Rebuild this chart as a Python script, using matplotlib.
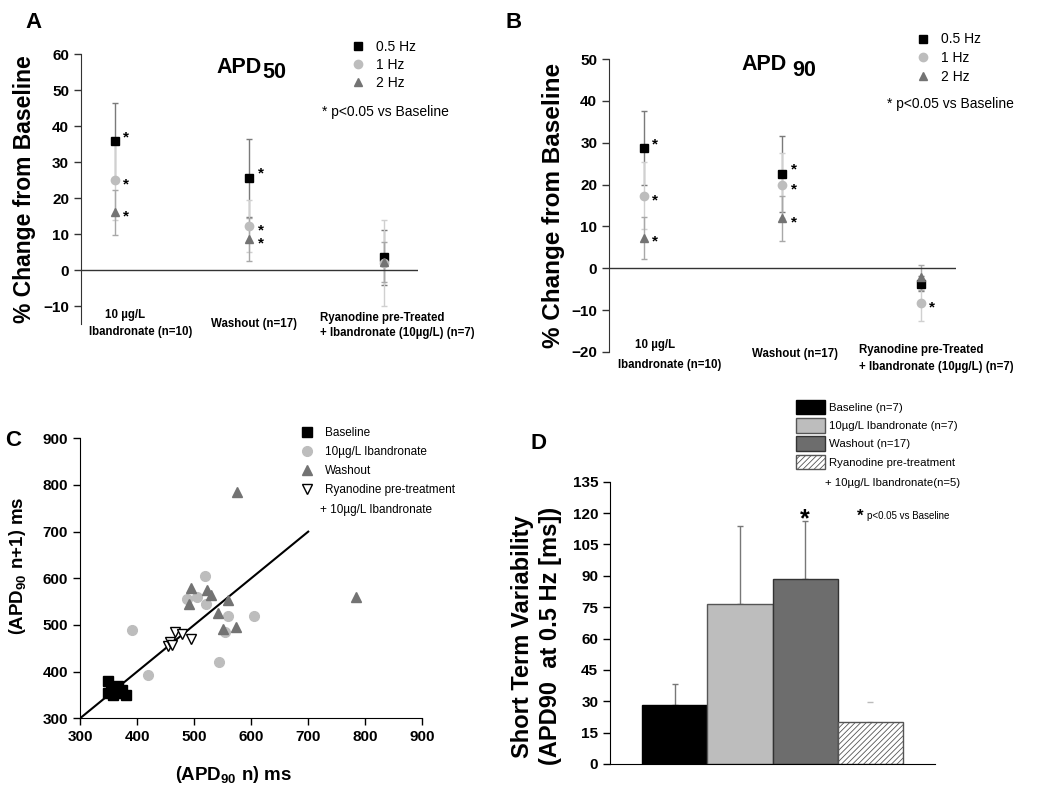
import matplotlib
matplotlib.use('Agg')
import matplotlib.pyplot as plt
from matplotlib.patches import Patch

plt.rcParams['font.family'] = 'Liberation Sans'
plt.rcParams['mathtext.fontset'] = 'custom'
plt.rcParams['mathtext.rm'] = 'Liberation Sans:bold'
plt.rcParams['mathtext.it'] = 'Liberation Sans:bold'
plt.rcParams['mathtext.bf'] = 'Liberation Sans:bold'
plt.rcParams['hatch.linewidth'] = 0.6
plt.rcParams['hatch.color'] = '#555555'

# ---- datos panel A (APD50) y B (APD90): % cambio vs baseline ----
grupos = [1, 2, 3]
freqs = ['0.5 Hz', '1 Hz', '2 Hz']

apd50 = [[35.7, 25.6, 3.5], [25.0, 12.2, 2.0], [16.0, 8.5, 2.3]]
apd50_err = [[10.8, 10.9, 7.7], [11.0, 7.3, 12.0], [6.3, 6.0, 5.5]]
apd50_sig = [[True, True, False], [True, True, False], [True, True, False]]

apd90 = [[28.7, 22.5, -3.7], [17.3, 19.8, -8.3], [7.3, 11.9, -2.2]]
apd90_err = [[8.8, 9.0, 1.8], [8.0, 7.7, 4.3], [5.0, 5.4, 3.0]]
apd90_sig = [[True, True, False], [True, True, True], [True, True, False]]

# ---- datos panel C: APD90 n vs n+1 ----
base_x = [349, 349, 358, 361, 367, 368, 373, 381, 355, 362]
base_y = [380, 354, 351, 368, 369, 354, 361, 350, 362, 358]
ib_x = [392, 420, 488, 505, 519, 520, 544, 555, 560, 605]
ib_y = [489, 393, 555, 559, 605, 545, 420, 484, 519, 520]
wash_x = [494, 491, 522, 529, 542, 560, 551, 574, 576, 784]
wash_y = [579, 545, 575, 564, 525, 554, 492, 496, 786, 561]
ry_x = [454, 457, 462, 466, 478, 494]
ry_y = [454, 464, 457, 484, 480, 471]
identidad = [300, 700]

# ---- datos panel D: short term variability ----
etiquetas_d = ['Baseline (n=7)', '10\u00b5g/L Ibandronate (n=7)', 'Washout (n=17)', 'Ryanodine pre-treatment']
stv = [28.2, 76.5, 88.5, 20.2]
stv_err = [10.1, 37.3, 27.7, 9.3]

marcadores = ['s', 'o', '^']
colores = ['#000000', '#bdbdbd', '#737373']
colores_err = ['#7a7a7a', '#d0d0d0', '#a8a8a8']
desplaz_asterisco = [3, -3, -3]


def panel_cambio(ax, vals, errs, sigs, ylim, yticks):
    for i in range(3):
        ax.errorbar(grupos, vals[i], yerr=errs[i], fmt='none', ecolor=colores_err[i],
                    elinewidth=1, capsize=2.5, capthick=1, zorder=2)
    for i in range(3):
        ax.plot(grupos, vals[i], linestyle='none', marker=marcadores[i], color=colores[i],
                markersize=6, label=freqs[i], zorder=3)
        for g, v, s in zip(grupos, vals[i], sigs[i]):
            if s:
                ax.annotate('*', (g, v), xytext=(6, desplaz_asterisco[i]), textcoords='offset points',
                            va='center', fontsize=11, fontweight='bold')
    ax.axhline(0, color='#333333', lw=1)
    ax.set_xlim(0.75, 3.25)
    ax.set_ylim(*ylim)
    ax.set_yticks(yticks)
    ax.set_xticks([])
    for sp in ['top', 'right', 'bottom']:
        ax.spines[sp].set_visible(False)
    ax.spines['left'].set_color('#333333')
    ax.tick_params(axis='y', labelsize=11, width=1, length=5, color='#333333')
    for t in ax.get_yticklabels():
        t.set_fontweight('bold')


fig = plt.figure(figsize=(10.5, 7.92), dpi=100)

# Panel A
axA = fig.add_axes([0.0771, 0.5909, 0.3210, 0.3409])
panel_cambio(axA, apd50, apd50_err, apd50_sig, (-15, 60), range(-10, 61, 10))
axA.text(2.093, 54.8, 'APD', ha='right', va='baseline', fontsize=15.5, fontweight='bold')
axA.text(2.095, 53.4, '50', ha='left', va='baseline', fontsize=15.5, fontweight='bold')
kw = dict(fontsize=8.3, fontweight='bold', va='center', clip_on=False)
axA.text(1.08, -12.5, '10 \u00b5g/L', ha='center', **kw)
axA.text(1.19, -17.2, 'Ibandronate (n=10)', ha='center', **kw)
axA.text(2.03, -15.0, 'Washout (n=17)', ha='center', **kw)
axA.text(2.524, -13.4, 'Ryanodine pre-Treated', ha='left', **kw)
axA.text(2.524, -17.5, '+ Ibandronate (10\u00b5g/L) (n=7)', ha='left', **kw)
axA.legend(loc='upper left', bbox_to_anchor=(0.334, 0.9495), bbox_transform=fig.transFigure,
           frameon=False, fontsize=10, handlelength=1, handletextpad=0.8,
           labelspacing=0.3, borderpad=0, borderaxespad=0)
fig.text(0.307, 0.8586, '* p<0.05 vs Baseline', fontsize=10, va='center')
fig.text(0.0238, 0.7614, '% Change from Baseline', rotation=90, fontsize=16.5,
         fontweight='bold', ha='center', va='center')

# Panel B
axB = fig.add_axes([0.58, 0.5556, 0.3302, 0.3699])
panel_cambio(axB, apd90, apd90_err, apd90_sig, (-20, 50), range(-20, 51, 10))
axB.text(2.03, 47.3, 'APD', ha='right', va='baseline', fontsize=15.5, fontweight='bold')
axB.text(2.07, 45.9, '90', ha='left', va='baseline', fontsize=15.5, fontweight='bold')
axB.text(1.08, -18.4, '10 \u00b5g/L', ha='center', **kw)
axB.text(1.19, -23.0, 'Ibandronate (n=10)', ha='center', **kw)
axB.text(2.09, -20.5, 'Washout (n=17)', ha='center', **kw)
axB.text(2.55, -19.6, 'Ryanodine pre-Treated', ha='left', **kw)
axB.text(2.55, -23.6, '+ Ibandronate (10\u00b5g/L) (n=7)', ha='left', **kw)
axB.legend(loc='upper left', bbox_to_anchor=(0.8726, 0.959), bbox_transform=fig.transFigure,
           frameon=False, fontsize=10, handlelength=1, handletextpad=0.8,
           labelspacing=0.35, borderpad=0, borderaxespad=0)
fig.text(0.845, 0.8687, '* p<0.05 vs Baseline', fontsize=10, va='center')
fig.text(0.5276, 0.74, '% Change from Baseline', rotation=90, fontsize=17.5,
         fontweight='bold', ha='center', va='center')

# Panel C
axC = fig.add_axes([0.0762, 0.0930, 0.3260, 0.3536])
axC.plot(identidad, identidad, color='black', lw=1.5, zorder=1)
axC.plot(base_x, base_y, 's', color='black', markersize=7, label='Baseline', zorder=3)
axC.plot(ib_x, ib_y, 'o', color='#bdbdbd', markersize=7, label='10\u00b5g/L Ibandronate', zorder=2)
axC.plot(wash_x, wash_y, '^', color='#737373', markersize=7.5, label='Washout', zorder=2)
axC.plot(ry_x, ry_y, 'v', markerfacecolor='white', markeredgecolor='black', markeredgewidth=1,
         markersize=7.5, linestyle='none', label='Ryanodine pre-treatment', zorder=3)
axC.set_xlim(300, 900)
axC.set_ylim(300, 900)
axC.set_xticks(range(300, 901, 100))
axC.set_yticks(range(300, 901, 100))
for sp in ['top', 'right']:
    axC.spines[sp].set_visible(False)
axC.tick_params(labelsize=11, width=1, length=5)
for t in axC.get_xticklabels() + axC.get_yticklabels():
    t.set_fontweight('bold')
axC.legend(loc='upper left', bbox_to_anchor=(0.2867, 0.4609), bbox_transform=fig.transFigure,
           frameon=False, fontsize=8.5, handlelength=1, handletextpad=1.0,
           labelspacing=0.6, borderpad=0, borderaxespad=0)
fig.text(0.3048, 0.356, '+ 10\u00b5g/L Ibandronate', fontsize=8.5, va='center')
fig.text(0.2229, 0.0215, r'$\left(\mathrm{APD_{90}\ n}\right)$ ms', fontsize=13.5,
         fontweight='bold', ha='center', va='center')
fig.text(0.0162, 0.2857, r'$\left(\mathrm{APD_{90}\ n{+}1}\right)$ ms', fontsize=13.5,
         fontweight='bold', ha='center', va='center', rotation=90)

# Panel D
axD = fig.add_axes([0.581, 0.0354, 0.3095, 0.3564])
xpos = range(len(stv))
caras = ['#000000', '#bdbdbd', '#6d6d6d', 'white']
bordes = ['#000000', '#555555', '#333333', '#555555']
tramas = [None, None, None, '//////']
barras = axD.bar(xpos, stv, width=1.0, color=caras, edgecolor=bordes, linewidth=1, zorder=2)
for b, h in zip(barras, tramas):
    if h:
        b.set_hatch(h)
for i in range(3):
    axD.errorbar(i, stv[i], yerr=[[0], [stv_err[i]]], fmt='none', ecolor='#777777',
                 elinewidth=1, capsize=2.5, capthick=1, zorder=1)
axD.errorbar(3, stv[3], yerr=[[0], [stv_err[3]]], fmt='none', ecolor='#bbbbbb',
             elinewidth=0, capsize=2.5, capthick=1, zorder=1)
axD.text(2, 111.5, '*', ha='center', va='bottom', fontsize=18, fontweight='bold')
axD.set_xlim(-0.99, 3.99)
axD.set_ylim(0, 135)
axD.set_yticks(range(0, 136, 15))
axD.set_xticks([])
for sp in ['top', 'right']:
    axD.spines[sp].set_visible(False)
axD.tick_params(labelsize=11, width=1, length=5)
for t in axD.get_yticklabels():
    t.set_fontweight('bold')
handles = [Patch(facecolor=c, edgecolor=e, hatch=h, label=l)
           for c, e, h, l in zip(caras, bordes, tramas, etiquetas_d)]
axD.legend(handles=handles, loc='upper left', bbox_to_anchor=(0.758, 0.4955),
           bbox_transform=fig.transFigure, frameon=False, fontsize=8.2,
           handlelength=2.54, handleheight=1.6, handletextpad=0.34,
           labelspacing=0.33, borderpad=0, borderaxespad=0)
fig.text(0.7857, 0.3898, '+ 10\u00b5g/L Ibandronate(n=5)', fontsize=8.2, va='center')
fig.text(0.816, 0.3485, '*', fontsize=12, fontweight='bold', va='center')
fig.text(0.826, 0.3485, 'p<0.05 vs Baseline', fontsize=7, va='center')
fig.text(0.498, 0.196, 'Short Term Variability', rotation=90, fontsize=17,
         fontweight='bold', ha='center', va='center')
fig.text(0.524, 0.197, '(APD90  at 0.5 Hz [ms])', rotation=90, fontsize=17,
         fontweight='bold', ha='center', va='center')

# letras de panel
for x, y, letra in [(0.024, 0.985, 'A'), (0.481, 0.985, 'B'), (0.005, 0.457, 'C'), (0.505, 0.453, 'D')]:
    fig.text(x, y, letra, fontsize=16, fontweight='bold', va='top')

fig.savefig('out.png', dpi=100)
